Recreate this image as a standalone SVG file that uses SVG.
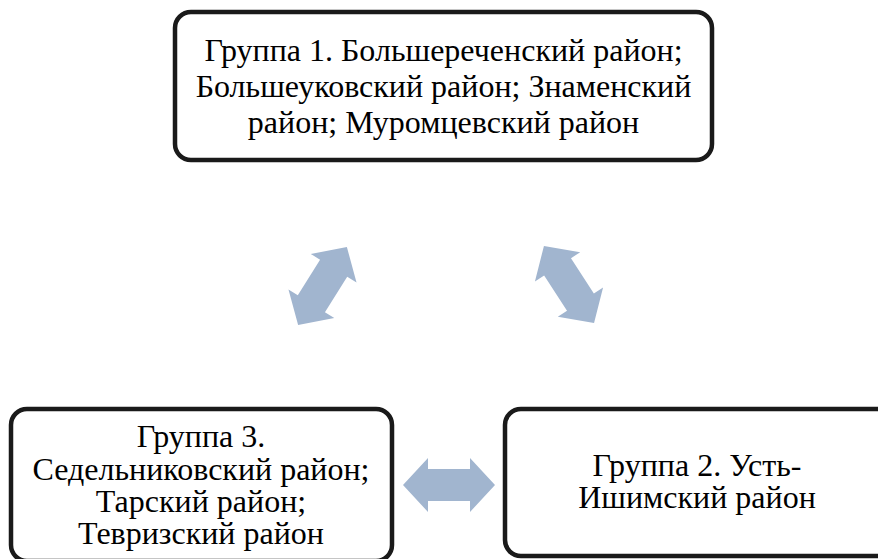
<svg xmlns="http://www.w3.org/2000/svg" width="878" height="559" viewBox="0 0 878 559">
<defs>
<style>
.box{fill:#fff;stroke:#1a1a1a;stroke-width:4.5}
.t{font-family:"Liberation Serif","Times New Roman",serif;font-size:32px;fill:#000;text-anchor:middle}
.arr{fill:#a1b5cf}
</style>
<path id="dbl" d="M-46,0 L-21,-27 L-21,-16 L21,-16 L21,-27 L46,0 L21,27 L21,16 L-21,16 L-21,27 Z"/>
</defs>
<rect width="878" height="559" fill="#fff"/>
<g id="connectors" class="arr">
<use href="#dbl" transform="translate(322.5,286) rotate(-58)"/>
<use href="#dbl" transform="translate(569,284.5) rotate(57)"/>
<use href="#dbl" transform="translate(449,485)"/>
</g>
<g id="group1">
<rect class="box" x="175" y="12" width="537" height="148" rx="16"/>
<text class="t"><tspan x="443.5" y="61">Группа 1. Большереченский район;</tspan><tspan x="443.5" y="97">Большеуковский район; Знаменский</tspan><tspan x="443.5" y="133">район; Муромцевский район</tspan></text>
</g>
<g id="group3">
<rect class="box" x="11" y="409" width="381" height="152" rx="16"/>
<text class="t"><tspan x="201" y="447">Группа 3.</tspan><tspan x="201" y="480">Седельниковский район;</tspan><tspan x="201" y="512">Тарский район;</tspan><tspan x="201" y="544">Тевризский район</tspan></text>
</g>
<g id="group2">
<rect class="box" x="505" y="409" width="390" height="147" rx="16"/>
<text class="t"><tspan x="697" y="476">Группа 2. Усть-</tspan><tspan x="697" y="508">Ишимский район</tspan></text>
</g>
</svg>
